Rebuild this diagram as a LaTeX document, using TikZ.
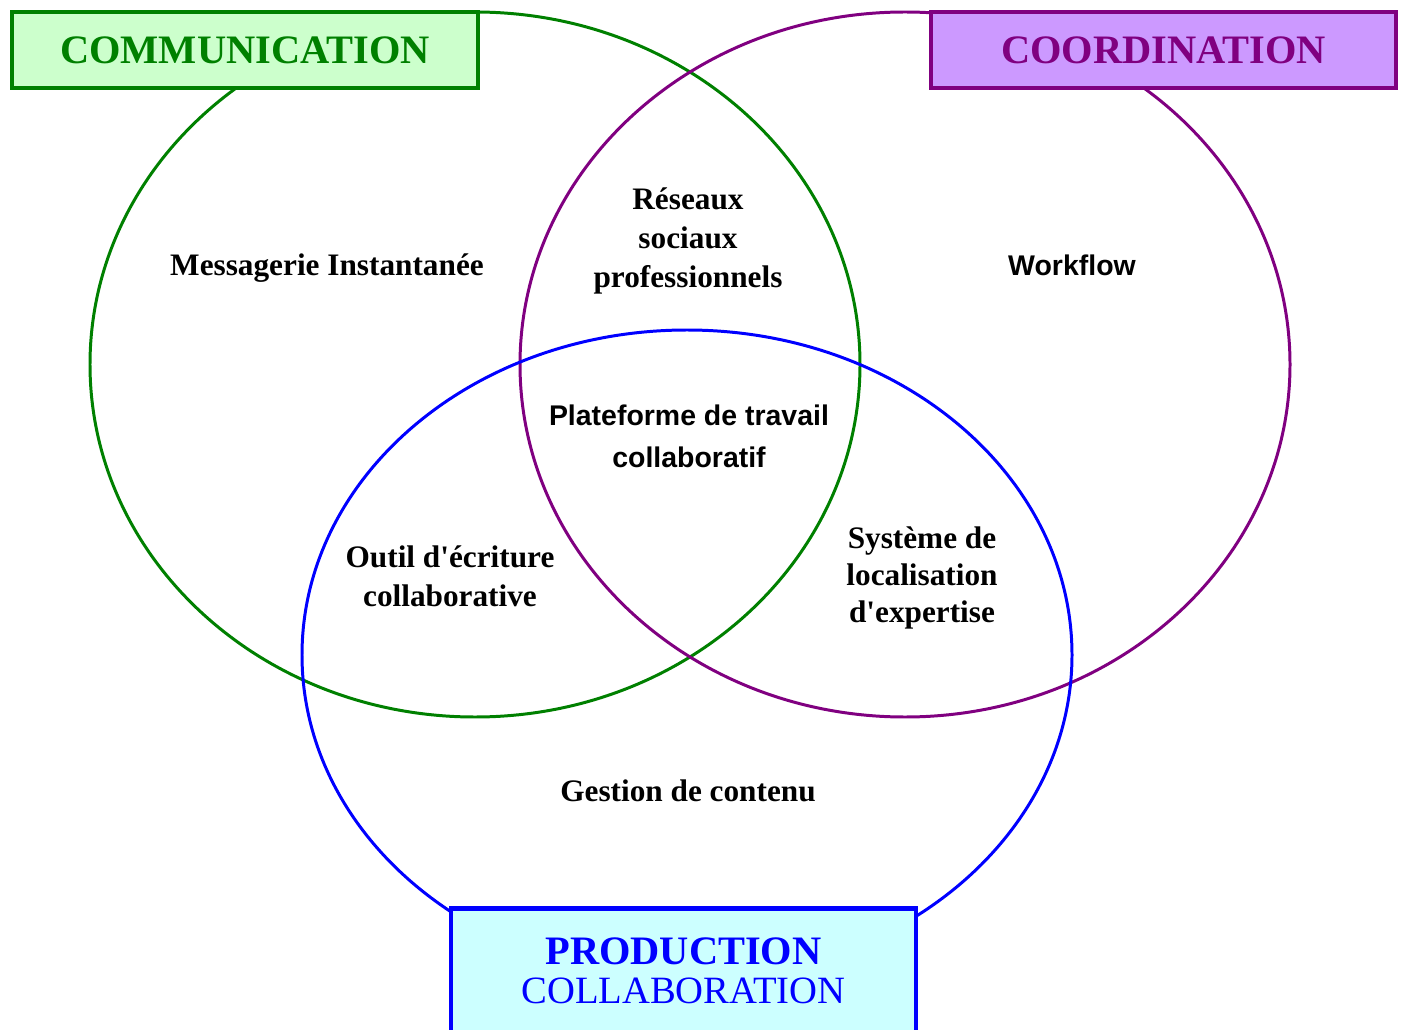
\documentclass[tikz,border=0pt]{standalone}
\usepackage{fontspec}
\setmainfont{Liberation Serif}[Ligatures=TeXOff]
\setsansfont{Liberation Sans}
\usetikzlibrary{positioning}

\definecolor{comgreen}{HTML}{008000}
\definecolor{comfill}{HTML}{CCFFCC}
\definecolor{coopurple}{HTML}{800080}
\definecolor{coofill}{HTML}{CC99FF}
\definecolor{prodblue}{HTML}{0000FF}
\definecolor{prodfill}{HTML}{CCFFFF}

\begin{document}
\begin{tikzpicture}[x=0.02cm,y=-0.02cm,
    ring/.style={line width=1.7pt},
    titlebox/.style={draw,line width=2.3pt,minimum width=9.32cm,align=center,
      font=\fontsize{23}{26}\selectfont\bfseries},
    lbl/.style={align=center,font=\fontsize{17.8}{22.2}\selectfont\bfseries},
    slbl/.style={align=center,font=\fontsize{16.2}{24}\selectfont\sffamily\bfseries}]
  \useasboundingbox (0,0) rectangle (1406,1030);
  % the three sets
  \draw[ring,comgreen] (475,364.5) ellipse [x radius=385,y radius=352.5];
  \draw[ring,coopurple] (905,364.5) ellipse [x radius=385,y radius=352.5];
  \draw[ring,prodblue] (687,655) ellipse [x radius=385,y radius=325];
  % titles
  \node[titlebox,draw=comgreen,fill=comfill,text=comgreen,minimum height=1.52cm] (com) at (245,50) {COMMUNICATION};
  \node[titlebox,draw=coopurple,fill=coofill,text=coopurple,minimum height=1.52cm] (coo) at (1163.5,50) {COORDINATION};
  \node[titlebox,draw=prodblue,fill=prodfill,text=prodblue,minimum height=2.5cm] (prod) at (683.5,971)
    {PRODUCTION\\[-4pt]{\fontsize{22}{26}\selectfont\mdseries COLLABORATION}};
  % tools
  \node[lbl] (msg) at (327,268) {Messagerie Instantanée};
  \node[lbl] (rsp) at (688,241) {Réseaux\\sociaux\\professionnels};
  \node[slbl] (wf) at (1072,265) {Workflow};
  \node[slbl] (ptc) at (689,436) {Plateforme de travail\\collaboratif};
  \node[lbl] (oec) at (450,576) {Outil d'écriture\\collaborative};
  \node[lbl] (sle) at (922,578) {Système de\\[-1.4pt]localisation\\[-1.4pt]d'expertise};
  \node[lbl] (gc) at (688,791) {Gestion de contenu};
\end{tikzpicture}
\end{document}
